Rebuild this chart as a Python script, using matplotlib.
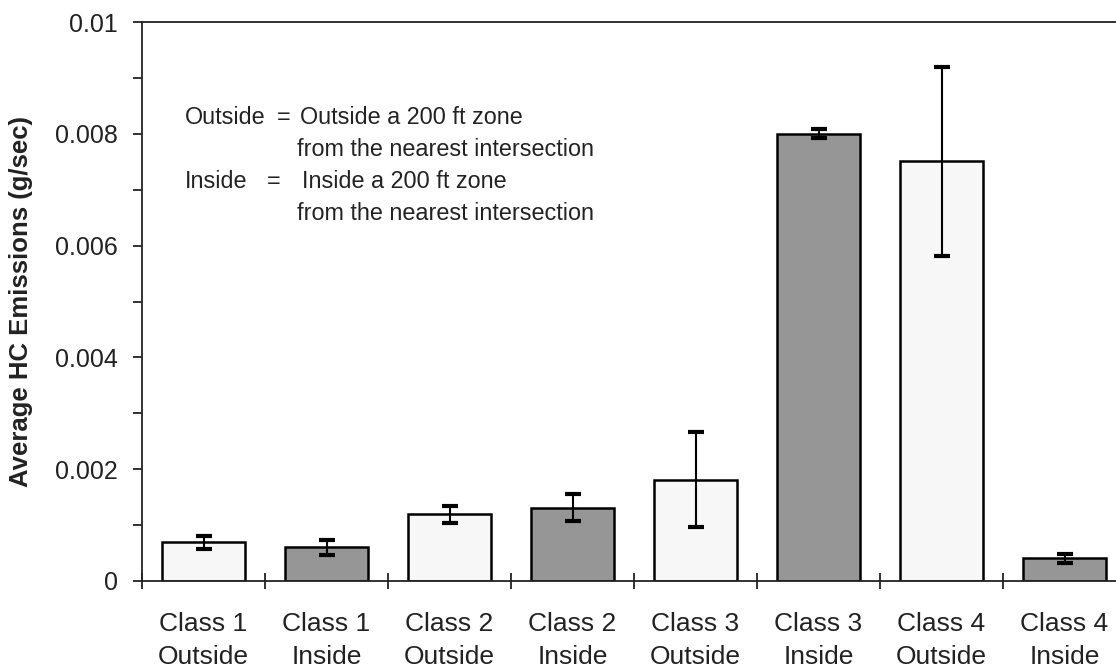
import matplotlib
matplotlib.use("Agg")
import matplotlib.pyplot as plt
from matplotlib.ticker import MultipleLocator, FixedLocator, FuncFormatter

plt.rcParams['font.family'] = ['Liberation Sans', 'DejaVu Sans']

# Average HC emissions by vehicle class and location relative to intersections
categories = ["Class 1\nOutside", "Class 1\nInside", "Class 2\nOutside", "Class 2\nInside",
              "Class 3\nOutside", "Class 3\nInside", "Class 4\nOutside", "Class 4\nInside"]
emissions = [0.00069, 0.00060, 0.00119, 0.00131, 0.00181, 0.00800, 0.00751, 0.00041]
errors = [0.00011, 0.00013, 0.00015, 0.00024, 0.00085, 0.00008, 0.00169, 0.00008]
zones = ["Outside", "Inside", "Outside", "Inside", "Outside", "Inside", "Outside", "Inside"]

zone_colors = {"Outside": "#f7f7f7", "Inside": "#969696"}
ink = "#222222"

W, H = 1116, 671
fig = plt.figure(figsize=(W / 100, H / 100), dpi=100)
# plot area runs slightly past the right edge of the figure
ax = fig.add_axes([142 / W, (H - 581) / H, 984 / W, (581 - 22) / H])

x = list(range(len(categories)))
ax.bar(x, emissions, width=0.68, color=[zone_colors[z] for z in zones],
       edgecolor="black", linewidth=1.8, zorder=2)
ax.errorbar(x, emissions, yerr=errors, fmt="none", ecolor="black",
            elinewidth=1.5, capsize=6, capthick=3, zorder=3)

ax.set_xlim(-0.5, len(categories) - 0.5)
ax.set_ylim(0, 0.01)

ax.yaxis.set_major_locator(MultipleLocator(0.002))
ax.yaxis.set_minor_locator(MultipleLocator(0.001))
ax.yaxis.set_major_formatter(FuncFormatter(lambda v, p: "0" if abs(v) < 1e-12 else f"{v:g}"))
ax.tick_params(axis="y", which="both", direction="out", length=6.5, width=1.3,
               labelsize=18, pad=10.8, colors=ink)

ax.set_xticks(x)
ax.set_xticklabels(categories, fontsize=19, linespacing=1.45)
ax.xaxis.set_minor_locator(FixedLocator([i - 0.5 for i in range(len(categories) + 1)]))
ax.tick_params(axis="x", which="major", length=0, pad=22.5, colors=ink)
ax.tick_params(axis="x", which="minor", direction="inout", length=12, width=1.3, colors=ink)

for side in ["left", "bottom", "top", "right"]:
    ax.spines[side].set_linewidth(1.3)
    ax.spines[side].set_color(ink)

fig.text(21 / W, (H - 301) / H, "Average HC Emissions (g/sec)", rotation=90,
         fontsize=18.5, fontweight="bold", color=ink, ha="center", va="center")

# zone definitions
note_kw = dict(transform=None, fontsize=16.8, color=ink, va="center", ha="left")
def note(px, py, s):
    ax.text(px, H - py, s, **note_kw)

note(185, 118, "Outside")
note(277, 118, "=")
note(300, 118, "Outside a 200 ft zone")
note(297, 150, "from the nearest intersection")
note(185, 182, "Inside")
note(267, 182, "=")
note(302, 182, "Inside a 200 ft zone")
note(297, 213, "from the nearest intersection")

fig.savefig("out.png", dpi=100)
